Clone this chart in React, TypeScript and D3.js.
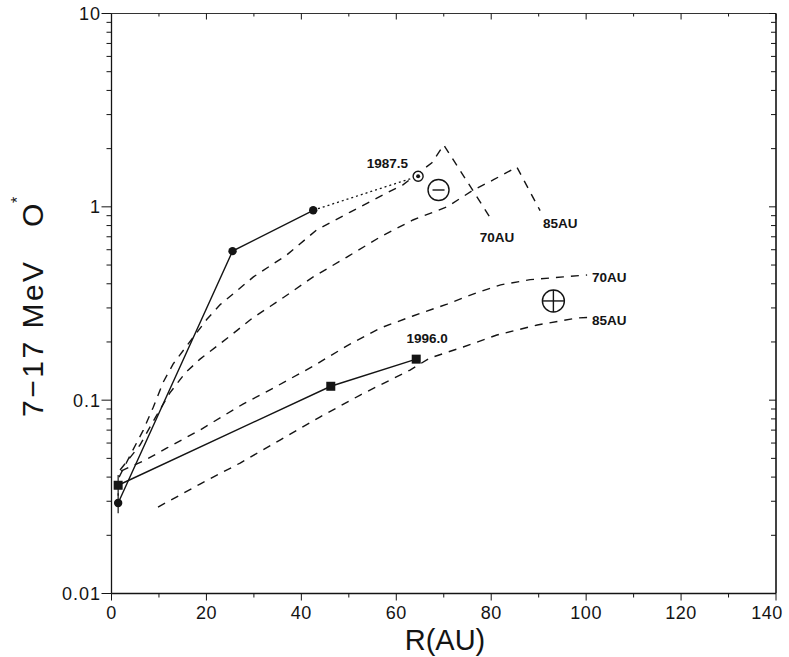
import React from "react";
import * as d3 from "d3";

// Observed 7-17 MeV anomalous oxygen intensities vs heliocentric distance
const minA_R = [1.4, 25.5, 42.5, 64.6];
const minA_J = [0.0294, 0.59, 0.96, 1.44];
const minA_err = [[0.026, 0.033], null, null, null];

const minB_R = [1.4, 46.2, 64.2];
const minB_J = [0.0363, 0.118, 0.163];
const minB_err = [[0.032, 0.041], null, null];

// Model curves for shock distances of 70 and 85 AU, both polarities
const negShock70_R = [1.6, 4.3, 6.7, 8.8, 10.9, 13.0, 15.85, 20.1, 22.9, 29.9, 36.9, 43.2, 50.3, 58.0, 61.4, 67.5, 70.0, 80.1];
const negShock70_J = [0.040, 0.054, 0.070, 0.092, 0.124, 0.154, 0.191, 0.262, 0.312, 0.434, 0.563, 0.759, 0.94, 1.18, 1.30, 1.69, 2.09, 0.855];

const negShock85_R = [1.8, 6.0, 9.2, 12.3, 15.5, 18.65, 22.9, 26.4, 29.8, 33.4, 37.0, 42.5, 49.6, 56.6, 63.5, 70.7, 76.2, 80.4, 85.4, 90.3];
const negShock85_J = [0.0435, 0.0586, 0.081, 0.109, 0.138, 0.163, 0.196, 0.229, 0.267, 0.305, 0.35, 0.434, 0.55, 0.698, 0.855, 1.0, 1.22, 1.377, 1.607, 0.955];

const posShock70_R = [2.0, 7.1, 11.7, 18.65, 27.7, 33.4, 42.5, 49.6, 56.6, 63.5, 70.7, 77.0, 82.0, 88.2, 95.2, 100.2];
const posShock70_J = [0.043, 0.049, 0.0566, 0.0701, 0.0955, 0.113, 0.150, 0.191, 0.236, 0.2725, 0.314, 0.36, 0.395, 0.42, 0.434, 0.444];

const posShock85_R = [9.8, 18.65, 27.1, 35.5, 43.9, 52.4, 62.9, 67.1, 74.1, 81.2, 89.7, 98.1, 100.2];
const posShock85_J = [0.028, 0.0368, 0.0473, 0.0622, 0.0818, 0.1063, 0.1432, 0.1653, 0.1884, 0.2173, 0.2448, 0.266, 0.2677];

const xTicks = [0, 20, 40, 60, 80, 100, 120, 140];
const xTickLabels = ["0", "20", "40", "60", "80", "100", "120", "140"];
const yTicks = [0.01, 0.1, 1, 10];
const yTickLabels = ["0.01", "0.1", "1", "10"];

const epochA = "1987.5";
const epochB = "1996.0";
const shockLabels = ["70AU", "85AU", "70AU", "85AU"];

// Polarity markers (position in data space)
const negPolarity = { R: 68.9, J: 1.222 };
const posPolarity = { R: 93.1, J: 0.326 };

const W = 789;
const H = 657;
const FONT = "'Liberation Sans', Arial, Helvetica, sans-serif";
const INK = "#141414";

export default function App() {
  const x = d3.scaleLinear().domain([0, 140]).range([111.5, 776]);
  const y = d3.scaleLog().domain([0.01, 10]).range([593.5, 13.5]);
  const [x0, x1] = x.range();
  const [yB, yT] = y.range();

  const line = d3
    .line<[number, number]>()
    .x((d) => x(d[0]))
    .y((d) => y(d[1]));
  const zip = (r: number[], j: number[]) => r.map((v, i) => [v, j[i]] as [number, number]);

  const curves = [
    zip(negShock70_R, negShock70_J),
    zip(negShock85_R, negShock85_J),
    zip(posShock70_R, posShock70_J),
    zip(posShock85_R, posShock85_J),
  ];
  const labelOffsets = [
    [-12, 22],
    [3, 17],
    [5, 7],
    [5, 7.5],
  ];

  // log minor ticks
  const minorY: number[] = [];
  for (let dec = 0.01; dec < 10; dec *= 10) {
    for (let k = 2; k <= 9; k++) minorY.push(dec * k);
  }
  const minorX = d3.range(10, 140, 20);

  const A = zip(minA_R, minA_J);
  const B = zip(minB_R, minB_J);
  const aLast = A[A.length - 1];
  const bLast = B[B.length - 1];

  return (
    <svg
      width={W}
      height={H}
      style={{ position: "absolute", left: 0, top: 0, background: "#fff" }}
      fontFamily={FONT}
    >
      <rect x={0} y={0} width={W} height={H} fill="#fff" />
      {/* frame */}
      <g stroke={INK} strokeWidth={1.3} fill="none">
        <line x1={x0} y1={yT} x2={x0} y2={yB} />
        <line x1={x1} y1={yT} x2={x1} y2={yB} strokeWidth={1.6} />
        <line x1={x0} y1={yB} x2={x1} y2={yB} strokeWidth={1.6} />
        <line x1={x0} y1={yT} x2={x1} y2={yT} strokeWidth={1} stroke="#333" />
      </g>

      {/* y ticks */}
      <g stroke={INK} strokeWidth={1}>
        {yTicks.map((t) => (
          <g key={"ym" + t}>
            <line x1={x0 - 10} x2={x0} y1={y(t)} y2={y(t)} />
            <line x1={x1 - 7} x2={x1} y1={y(t)} y2={y(t)} />
          </g>
        ))}
        {minorY.map((t) => (
          <g key={"yn" + t}>
            <line x1={x0 - 5} x2={x0} y1={y(t)} y2={y(t)} />
            <line x1={x1 - 5} x2={x1} y1={y(t)} y2={y(t)} />
          </g>
        ))}
      </g>
      {/* x ticks */}
      <g stroke={INK} strokeWidth={1}>
        {xTicks.map((t) => (
          <g key={"xm" + t}>
            <line x1={x(t)} x2={x(t)} y1={yB} y2={yB + 7} />
            <line x1={x(t)} x2={x(t)} y1={yT} y2={yT + 6} />
          </g>
        ))}
        {minorX.map((t) => (
          <g key={"xn" + t}>
            <line x1={x(t)} x2={x(t)} y1={yB} y2={yB + 4} />
            <line x1={x(t)} x2={x(t)} y1={yT} y2={yT + 3} />
          </g>
        ))}
      </g>

      {/* tick labels */}
      <g fill={INK} fontSize={18}>
        {yTicks.map((t, i) => (
          <text key={"yl" + t} x={101} y={y(t)} dy="0.36em" textAnchor="end" letterSpacing={1}>
            {yTickLabels[i]}
          </text>
        ))}
        {xTicks.map((t, i) => (
          <text key={"xl" + t} x={Math.min(x(t), W - 22)} y={619} textAnchor="middle" letterSpacing={0.5}>
            {xTickLabels[i]}
          </text>
        ))}
      </g>

      {/* axis titles */}
      <text x={445} y={650} textAnchor="middle" fontSize={29} fill={INK}>
        R(AU)
      </text>
      <g transform="translate(43,417) rotate(-90)" fill={INK}>
        <text x={0} y={0} fontSize={30} letterSpacing={2.5}>
          7−17 MeV
        </text>
        <text x={190} y={0} fontSize={30}>
          O
        </text>
        <text x={214} y={-20} fontSize={16}>
          *
        </text>
      </g>

      {/* model curves */}
      <g fill="none" stroke={INK} strokeWidth={1.4} strokeDasharray="8,7">
        {curves.map((c, i) => (
          <path key={"c" + i} d={line(c) || ""} />
        ))}
      </g>
      <g fill={INK} fontSize={13.5} fontWeight="bold">
        {curves.map((c, i) => {
          const e = c[c.length - 1];
          return (
            <text key={"cl" + i} x={x(e[0]) + labelOffsets[i][0]} y={y(e[1]) + labelOffsets[i][1]}>
              {shockLabels[i]}
            </text>
          );
        })}
      </g>

      {/* observations */}
      <g fill="none" stroke={INK} strokeWidth={1.4}>
        <path d={line(A.slice(0, 3)) || ""} />
        <path d={line(A.slice(2)) || ""} strokeDasharray="2,3" strokeWidth={1.3} />
        <path d={line(B) || ""} />
      </g>
      <g stroke={INK} strokeWidth={1.2}>
        {minA_err.map((e, i) =>
          e ? <line key={"ea" + i} x1={x(minA_R[i])} x2={x(minA_R[i])} y1={y(e[0])} y2={y(e[1])} /> : null
        )}
        {minB_err.map((e, i) =>
          e ? <line key={"eb" + i} x1={x(minB_R[i])} x2={x(minB_R[i])} y1={y(e[0])} y2={y(e[1])} /> : null
        )}
      </g>
      <g fill={INK}>
        {A.slice(0, 3).map((p, i) => (
          <circle key={"pa" + i} cx={x(p[0])} cy={y(p[1])} r={4.2} />
        ))}
        {B.map((p, i) => (
          <rect key={"pb" + i} x={x(p[0]) - 4.5} y={y(p[1]) - 4.5} width={9} height={9} />
        ))}
      </g>
      {/* epoch point marked with circled dot */}
      <circle cx={x(aLast[0])} cy={y(aLast[1])} r={5} fill="#fff" stroke={INK} strokeWidth={1.4} />
      <circle cx={x(aLast[0])} cy={y(aLast[1])} r={2} fill={INK} />
      <g fill={INK} fontSize={13.5} fontWeight="bold">
        <text x={x(aLast[0]) - 10} y={y(aLast[1]) - 8} textAnchor="end">
          {epochA}
        </text>
        <text x={x(bLast[0]) + 11} y={y(bLast[1]) - 16} textAnchor="middle">
          {epochB}
        </text>
      </g>

      {/* polarity symbols */}
      <g fill="none" stroke={INK} strokeWidth={1.4}>
        <circle cx={x(negPolarity.R)} cy={y(negPolarity.J)} r={10.5} />
        <line
          x1={x(negPolarity.R) - 6}
          x2={x(negPolarity.R) + 6}
          y1={y(negPolarity.J)}
          y2={y(negPolarity.J)}
        />
        <circle cx={x(posPolarity.R)} cy={y(posPolarity.J)} r={11} />
        <line
          x1={x(posPolarity.R) - 11}
          x2={x(posPolarity.R) + 11}
          y1={y(posPolarity.J)}
          y2={y(posPolarity.J)}
        />
        <line
          x1={x(posPolarity.R)}
          x2={x(posPolarity.R)}
          y1={y(posPolarity.J) - 11}
          y2={y(posPolarity.J) + 11}
        />
      </g>
    </svg>
  );
}
